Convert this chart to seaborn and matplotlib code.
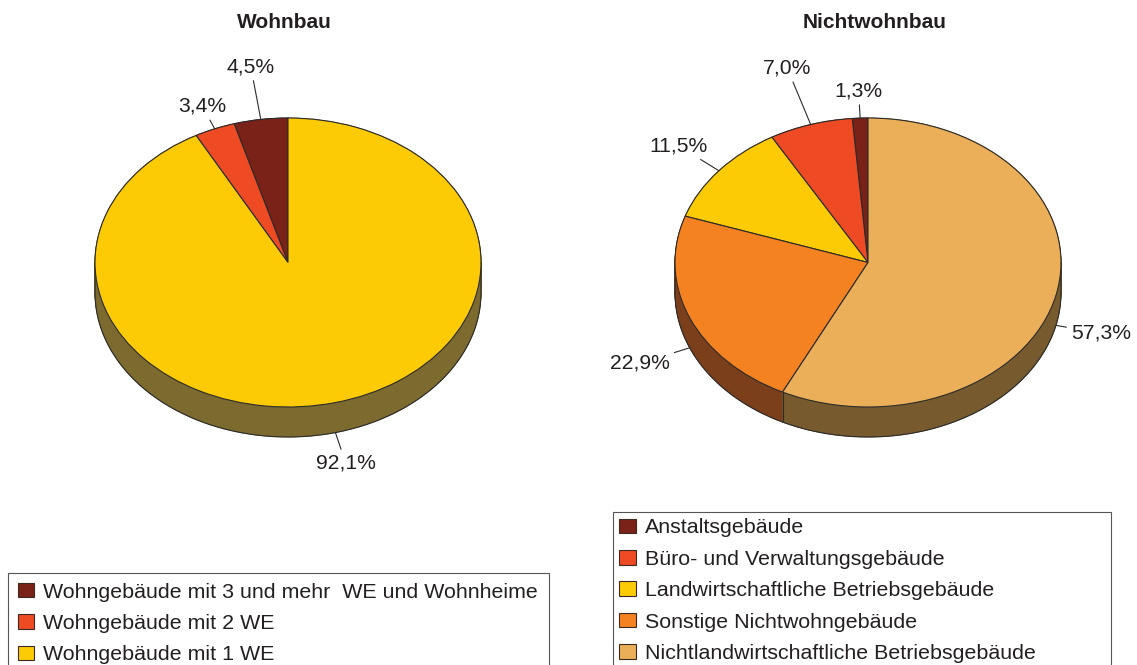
import numpy as np
import matplotlib
matplotlib.use("Agg")
import matplotlib.pyplot as plt
from matplotlib.patches import Patch
import seaborn as sns

# Wohnbau
wohn_labels = ["Wohngebäude mit 3 und mehr  WE und Wohnheime",
               "Wohngebäude mit 2 WE",
               "Wohngebäude mit 1 WE"]
wohn_values = [4.5, 3.4, 92.1]
wohn_colors = ["#7B2218", "#EE4B24", "#FDCB05"]
wohn_side = ["#3E110C", "#772512", "#7C6A2E"]
wohn_label_r = [1.37, 1.17, 1.22]

# Nichtwohnbau
nicht_labels = ["Anstaltsgebäude",
                "Büro- und Verwaltungsgebäude",
                "Landwirtschaftliche Betriebsgebäude",
                "Sonstige Nichtwohngebäude",
                "Nichtlandwirtschaftliche Betriebsgebäude"]
nicht_values = [1.3, 7.0, 11.5, 22.9, 57.3]
nicht_colors = ["#7B2218", "#EE4B24", "#FDCB05", "#F58220", "#EAAF58"]
nicht_side = ["#3E110C", "#772512", "#7C6A2E", "#7C3F1C", "#775B2E"]
nicht_label_r = [1.19, 1.41, 1.27, 1.28, 1.24]

W, H = 1137, 665
RX, RY = 193, 144.5          # pie radii in pixels (squashed ellipse)
DEPTH = 30 / RY              # thickness of the side wall, in pie units
XL, YT, YB = 1.5, 1.75, 1.55
EDGE = "#2b2b2b"
TXT = "#231f20"

sns.set_theme(style="white")
plt.rcParams["font.family"] = ["Liberation Sans", "DejaVu Sans"]


def fmt(v):
    return f"{v:.1f}%".replace(".", ",")


def pie3d(fig, cx, cy, values, colors, side, label_r):
    ax = fig.add_axes([(cx - XL * RX) / W, (H - cy - YB * RY) / H,
                       2 * XL * RX / W, (YT + YB) * RY / H])

    # side wall: stack of darker pies
    for off in np.linspace(-DEPTH, 0, 40):
        ws, _ = ax.pie(values, colors=side, startangle=90, counterclock=True,
                       center=(0, off), wedgeprops=dict(linewidth=0.6))
        for w in ws:
            w.set_edgecolor(w.get_facecolor())

    # outline of the wall
    t = np.linspace(np.pi, 2 * np.pi, 300)
    xs = np.concatenate([[-1], np.cos(t), [1]])
    ys = np.concatenate([[0], np.sin(t) - DEPTH, [0]])
    ax.plot(xs, ys, color=EDGE, lw=0.8, zorder=2)

    angles = 90 + np.cumsum([0] + list(values)) / sum(values) * 360
    for a in angles[:-1]:
        r = np.deg2rad(a)
        if np.sin(r) < -0.01:
            ax.plot([np.cos(r)] * 2, [np.sin(r), np.sin(r) - DEPTH],
                    color=EDGE, lw=0.8, zorder=2)

    # top face
    ws, _ = ax.pie(values, colors=colors, startangle=90, counterclock=True,
                   wedgeprops=dict(edgecolor=EDGE, linewidth=0.8))
    for w in ws:
        w.set_zorder(3)

    # percentage labels with leader lines
    mids = (angles[:-1] + angles[1:]) / 2
    for v, m, lr in zip(values, mids, label_r):
        r = np.deg2rad(m)
        c, s = np.cos(r), np.sin(r)
        drop = DEPTH if s < 0 else 0
        ax.annotate(fmt(v), xy=(c, s - drop), xytext=(lr * c, lr * s - drop),
                    ha="center", va="center", fontsize=15.2, color=TXT,
                    arrowprops=dict(arrowstyle="-", color=EDGE, lw=0.8,
                                    shrinkA=1, shrinkB=0),
                    zorder=4)

    ax.set_aspect("auto")
    ax.set_xlim(-XL, XL)
    ax.set_ylim(-YB, YT)
    ax.axis("off")
    return ax


fig = plt.figure(figsize=(W / 100, H / 100), dpi=100)

pie3d(fig, 288, 262.5, wohn_values, wohn_colors, wohn_side, wohn_label_r)
pie3d(fig, 868, 262.5, nicht_values, nicht_colors, nicht_side, nicht_label_r)

fig.text(284 / W, 1 - 22 / H, "Wohnbau", ha="center", va="center",
         fontsize=15, fontweight="bold", color=TXT)
fig.text(875 / W, 1 - 22 / H, "Nichtwohnbau", ha="center", va="center",
         fontsize=15, fontweight="bold", color=TXT)


def add_legend(labels, colors, x0, top, width, pad):
    handles = [Patch(facecolor=c, edgecolor="#3a2a20", linewidth=0.8) for c in colors]
    leg = fig.legend(handles, labels, loc="upper left",
                     bbox_to_anchor=(x0 / W, 0, width / W, 1 - top / H),
                     bbox_transform=fig.transFigure, mode="expand",
                     fontsize=15.4, handlelength=0.78, handleheight=0.68,
                     handletextpad=0.4, labelspacing=0.58, borderpad=pad,
                     borderaxespad=0, fancybox=False, framealpha=1)
    leg.get_frame().set_edgecolor("#555555")
    leg.get_frame().set_linewidth(0.8)
    for t in leg.get_texts():
        t.set_color(TXT)
    return leg


add_legend(wohn_labels, wohn_colors, 8, 573, 541, 0.45)
add_legend(nicht_labels, nicht_colors, 613, 512, 498, 0.3)

fig.savefig("out.png", dpi=100)
